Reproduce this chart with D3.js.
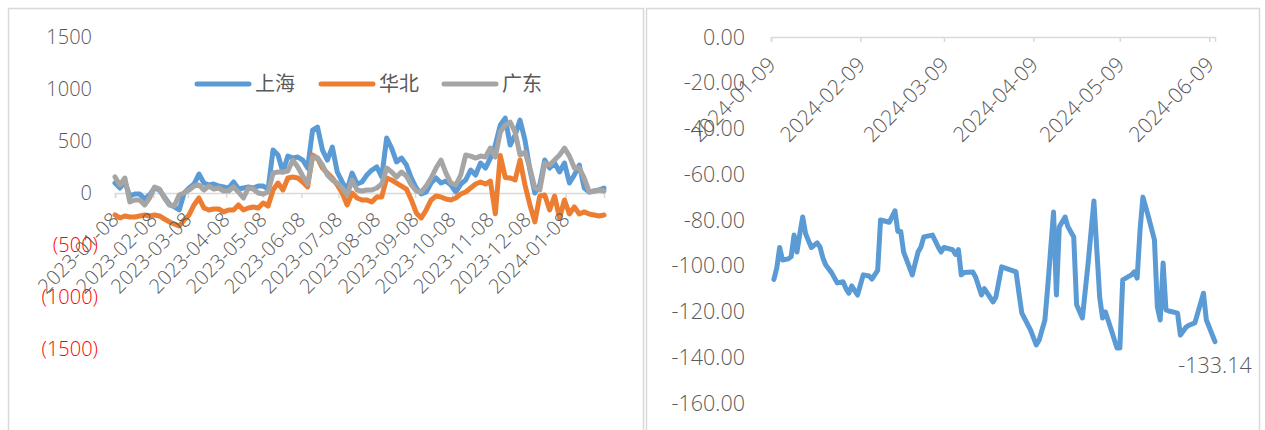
<!DOCTYPE html>
<html>
<head>
<meta charset="utf-8">
<script src="https://cdn.jsdelivr.net/npm/d3@7/dist/d3.min.js"></script>
<style>
  html, body { margin: 0; padding: 0; background: #ffffff; }
  svg { display: block; }
  .num { font-family: "Open Sans", "Liberation Sans", sans-serif; font-weight: 300; fill: #595959; }
  .cjk { font-family: "Noto Sans CJK SC", sans-serif; font-weight: 400; fill: #595959; }
</style>
</head>
<body>
<svg id="chart" width="1265" height="430"></svg>
<script>
// ---- Left panel: regional series, one value every 4 days from leftStart ----
const leftStart = "2023-01-08";
const leftStepDays = 4;
const seriesNames = ["上海", "华北", "广东"];
const shanghai = [96, 48, 106, -29, -10, -10, -58, -19, 48, 29,
  -38, -106, -134, -163, 0, 48, 86, 182, 96, 77,
  86, 67, 58, 48, 106, 38, 48, 58, 48, 67,
  67, 38, 413, 365, 202, 355, 336, 346, 317, 240,
  605, 634, 413, 317, 442, 202, 106, 29, 192, 86,
  106, 173, 221, 250, 154, 528, 432, 298, 336, 269,
  144, 48, -10, 10, 96, 144, 96, 115, 77, 10,
  86, 125, 221, 173, 288, 240, 336, 461, 653, 720,
  461, 557, 701, 509, 221, 0, 77, 317, 240, 288,
  202, 288, 96, 173, 269, 48, 10, 19, 29, 48];
const huabei = [-211, -240, -221, -230, -230, -221, -211, -221, -211, -221,
  -250, -278, -298, -317, -259, -211, -115, -48, -144, -163,
  -154, -154, -182, -163, -163, -115, -163, -144, -134, -144,
  -96, -125, 29, 96, 29, 144, 154, 144, 106, 58,
  365, 336, 240, 192, 144, 77, 0, -115, 0, -48,
  -67, -67, -86, -38, -38, 144, 125, 96, 67, 38,
  -67, -192, -240, -163, -67, -29, -38, -58, -67, -48,
  -10, 10, 48, 86, 106, 86, 115, -200, 360, 150,
  144, 125, 317, 77, -115, -278, -29, -19, -163, -29,
  -240, -67, -202, -134, -202, -182, -202, -211, -221, -211];
const guangdong = [154, 77, 144, -86, -67, -67, -115, -48, 58, 38,
  -48, -115, -125, -19, 0, 29, 67, 77, 29, 67,
  38, 48, 19, 19, 58, 10, -48, 48, 38, 0,
  -10, 10, 192, 202, 202, 211, 317, 250, 163, 86,
  346, 336, 269, 173, 125, 96, 48, -19, 125, 29,
  19, 29, 29, 48, 86, 240, 202, 154, 202, 163,
  77, 19, 10, 67, 144, 240, 317, 192, 96, 77,
  173, 365, 355, 336, 355, 346, 432, 346, 586, 653,
  682, 586, 365, 394, 240, 48, 29, 288, 269, 317,
  365, 432, 355, 240, 240, 144, 10, 19, 29, 19];
const leftTicksY = [1500, 1000, 500, 0, -500, -1000, -1500];
const leftTickDates = ["2023-01-08", "2023-02-08", "2023-03-08", "2023-04-08", "2023-05-08",
  "2023-06-08", "2023-07-08", "2023-08-08", "2023-09-08", "2023-10-08",
  "2023-11-08", "2023-12-08", "2024-01-08"];
const leftEndDate = "2024-02-08";

// ---- Right panel: spread series ----
const spreadDates = ["2024-01-10", "2024-01-11", "2024-01-12", "2024-01-13", "2024-01-15",
  "2024-01-16", "2024-01-17", "2024-01-18", "2024-01-19", "2024-01-20",
  "2024-01-21", "2024-01-23", "2024-01-25", "2024-01-26", "2024-01-27",
  "2024-01-28", "2024-01-30", "2024-02-01", "2024-02-03", "2024-02-04",
  "2024-02-05", "2024-02-06", "2024-02-08", "2024-02-10", "2024-02-12",
  "2024-02-13", "2024-02-15", "2024-02-16", "2024-02-19", "2024-02-21",
  "2024-02-22", "2024-02-23", "2024-02-24", "2024-02-27", "2024-02-29",
  "2024-03-01", "2024-03-02", "2024-03-05", "2024-03-07", "2024-03-08",
  "2024-03-09", "2024-03-12", "2024-03-13", "2024-03-14", "2024-03-15",
  "2024-03-16", "2024-03-19", "2024-03-20", "2024-03-22", "2024-03-23",
  "2024-03-26", "2024-03-27", "2024-03-29", "2024-04-03", "2024-04-04",
  "2024-04-05", "2024-04-08", "2024-04-10", "2024-04-11", "2024-04-13",
  "2024-04-14", "2024-04-16", "2024-04-17", "2024-04-18", "2024-04-20",
  "2024-04-21", "2024-04-23", "2024-04-24", "2024-04-26", "2024-04-28",
  "2024-04-30", "2024-05-02", "2024-05-03", "2024-05-04", "2024-05-06",
  "2024-05-08", "2024-05-09", "2024-05-10", "2024-05-13", "2024-05-14",
  "2024-05-15", "2024-05-16", "2024-05-17", "2024-05-19", "2024-05-21",
  "2024-05-22", "2024-05-23", "2024-05-24", "2024-05-25", "2024-05-26",
  "2024-05-29", "2024-05-30", "2024-06-01", "2024-06-02", "2024-06-04",
  "2024-06-05", "2024-06-07", "2024-06-08", "2024-06-11"];
const spreadValues = [-106, -101, -92, -97.5, -97,
  -96, -86.6, -94, -86, -78.7,
  -86, -92, -90, -91.8, -96.6,
  -99.7, -103, -107.5, -107, -110,
  -112, -108.8, -112.8, -104, -104.5,
  -105.8, -102, -80, -81, -76,
  -85, -85, -94, -104, -94,
  -91.8, -87.4, -86.6, -91.8, -94,
  -92, -93, -95, -93, -104,
  -103, -102.7, -105, -112.8, -110,
  -115.8, -113.7, -100.5, -102.7, -112,
  -120.7, -128, -134.6, -132.5, -123.7,
  -109, -76.5, -112.8, -83, -78.7,
  -83, -87.4, -117, -122.8, -98.8,
  -71.7, -113.7, -122.8, -120.2, -128,
  -136, -136, -106.2, -104, -102.7,
  -105.4, -84.4, -70, -79, -88.7,
  -118, -123.7, -98.8, -119.3, -119.8,
  -120.7, -130.3, -126.8, -126, -125,
  -120.7, -112, -123.7, -133.14];
const rightTicksY = [0, -20, -40, -60, -80, -100, -120, -140, -160];
const rightTickDates = ["2024-01-09", "2024-02-09", "2024-03-09", "2024-04-09", "2024-05-09", "2024-06-09"];
const rightStartDate = "2024-01-09";
const rightEndDate = "2024-06-11";

const colors = ["#5b9bd5", "#ed7d31", "#a5a5a5"];
const parseDate = d3.timeParse("%Y-%m-%d");
const svg = d3.select("#chart");

// panel frames
svg.append("rect").attr("x", 8.5).attr("y", 8.5).attr("width", 635).attr("height", 440)
  .attr("fill", "none").attr("stroke", "#d9d9d9").attr("stroke-width", 1.5);
svg.append("rect").attr("x", 646.5).attr("y", 8.5).attr("width", 613).attr("height", 440)
  .attr("fill", "none").attr("stroke", "#d9d9d9").attr("stroke-width", 1.5);

// ================= left chart =================
const xL = d3.scaleTime().domain([parseDate(leftStart), parseDate(leftEndDate)]).range([115, 604]);
const yL = d3.scaleLinear().domain([-1500, 1500]).range([349, 37]);
const left = svg.append("g");

// y tick labels: negatives in red with parentheses
left.selectAll("text.ylab").data(leftTicksY).join("text")
  .attr("class", "num ylab")
  .attr("x", d => d < 0 ? 98 : 92)
  .attr("y", d => yL(d))
  .attr("dy", "0.36em")
  .attr("text-anchor", "end")
  .attr("font-size", 20)
  .style("fill", d => d < 0 ? "#ff0000" : "#595959")
  .text(d => d < 0 ? `(${-d})` : `${d}`);

// category axis at zero
const leftAxis = d3.axisBottom(xL)
  .tickValues(leftTickDates.map(parseDate))
  .tickSize(5).tickFormat("");
const gAxL = left.append("g").attr("transform", `translate(0,${yL(0)})`).call(leftAxis);
gAxL.select(".domain").attr("stroke", "#d9d9d9").attr("stroke-width", 1.5);
gAxL.selectAll(".tick line").attr("stroke", "#d9d9d9").attr("stroke-width", 1.5);

const lineL = d3.line()
  .x((d, i) => xL(d3.timeDay.offset(parseDate(leftStart), i * leftStepDays)))
  .y(d => yL(d));
[shanghai, huabei, guangdong].forEach((s, k) => {
  left.append("path").datum(s)
    .attr("fill", "none").attr("stroke", colors[k]).attr("stroke-width", 5)
    .attr("stroke-linejoin", "round").attr("stroke-linecap", "round")
    .attr("d", lineL);
});

// rotated date labels
left.selectAll("text.xlab").data(leftTickDates).join("text")
  .attr("class", "num xlab")
  .attr("font-size", 20)
  .attr("text-anchor", "end")
  .attr("transform", d => `translate(${xL(parseDate(d)) + 5},${yL(0) + 28}) rotate(-45)`)
  .text(d => d);

// legend
const legX = [197, 321, 444];
seriesNames.forEach((n, k) => {
  left.append("line").attr("x1", legX[k]).attr("x2", legX[k] + 52).attr("y1", 84).attr("y2", 84)
    .attr("stroke", colors[k]).attr("stroke-width", 5).attr("stroke-linecap", "round");
  left.append("text").attr("class", "cjk").attr("x", legX[k] + 58).attr("y", 84)
    .attr("dy", "0.36em").attr("font-size", 20).text(n);
});

// ================= right chart =================
const xR = d3.scaleTime().domain([parseDate(rightStartDate), parseDate(rightEndDate)]).range([771, 1215]);
const yR = d3.scaleLinear().domain([-160, 0]).range([403, 37]);
const right = svg.append("g");

right.selectAll("text.ylab").data(rightTicksY).join("text")
  .attr("class", "num ylab")
  .attr("x", 745)
  .attr("y", d => yR(d))
  .attr("dy", "0.36em")
  .attr("text-anchor", "end")
  .attr("font-size", 21.5)
  .text(d => d3.format(".2f")(d).replace("−", "-"));

const rightAxis = d3.axisBottom(xR)
  .tickValues(rightTickDates.map(parseDate))
  .tickSize(5).tickFormat("");
const gAxR = right.append("g").attr("transform", `translate(0,${yR(0)})`).call(rightAxis);
gAxR.select(".domain").attr("stroke", "#d9d9d9").attr("stroke-width", 1.5);
gAxR.selectAll(".tick line").attr("stroke", "#d9d9d9").attr("stroke-width", 1.5);

right.selectAll("text.xlab").data(rightTickDates).join("text")
  .attr("class", "num xlab")
  .attr("font-size", 21)
  .attr("text-anchor", "end")
  .attr("transform", d => `translate(${xR(parseDate(d)) + 6},${yR(0) + 29}) rotate(-45)`)
  .text(d => d);

const spread = spreadDates.map((d, i) => ({ date: parseDate(d), value: spreadValues[i] }));
right.append("path").datum(spread)
  .attr("fill", "none").attr("stroke", colors[0]).attr("stroke-width", 5)
  .attr("stroke-linejoin", "round").attr("stroke-linecap", "round")
  .attr("d", d3.line().x(d => xR(d.date)).y(d => yR(d.value)));

// label for the latest value
const last = spread[spread.length - 1];
right.append("text").attr("class", "num")
  .attr("x", xR(last.date)).attr("y", yR(last.value) + 31)
  .attr("text-anchor", "middle").attr("font-size", 21.5)
  .text(d3.format(".2f")(last.value).replace("−", "-"));
</script>
</body>
</html>
